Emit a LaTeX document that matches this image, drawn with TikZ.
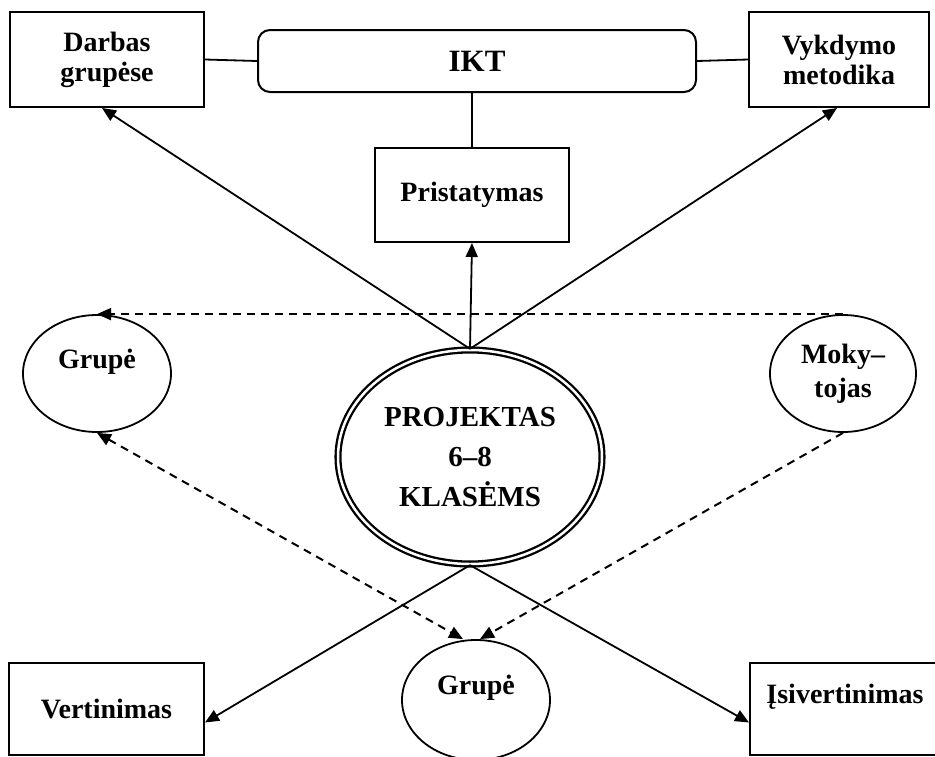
\documentclass[tikz,border=0pt]{standalone}
\usepackage{fontspec}
\setmainfont{Liberation Serif}
\usetikzlibrary{shapes.geometric,arrows.meta}
\begin{document}
\begin{tikzpicture}[x=1pt, y=-1pt,
      every node/.style={align=center, inner sep=0pt, font=\bfseries\fontsize{28}{30}\selectfont},
      box/.style={draw, line width=2pt, rectangle},
      oval/.style={draw, line width=1.8pt, ellipse},
      tip/.style={Triangle[length=14pt, width=12pt]},
      arr/.style={line width=1.8pt, -{Triangle[length=14pt, width=12pt]}},
      dash arr/.style={arr, line width=2pt, dash pattern=on 8pt off 6pt},
      link/.style={line width=1.8pt}]
    \useasboundingbox (0,0) rectangle (935,756);
    % top row
    \node[box, minimum width=194, minimum height=95] (darbas) at (107,59.5) {Darbas\\grupėse};
    \node[box, rounded corners=12pt, minimum width=438, minimum height=62,
      font=\bfseries\fontsize{31}{34}\selectfont] (ikt) at (477,61) {IKT};
    \node[box, minimum width=180, minimum height=95] (vykdymo) at (839,59.5) {Vykdymo\\metodika};
    \node[box, minimum width=194, minimum height=94] (pristat) at (472,195) {Pristatymas};
    % centre
    \node[oval, double, double distance=2.5pt, line width=2.3pt, minimum width=264, minimum height=214,
      font=\bfseries\fontsize{29}{40}\selectfont] (projektas) at (470,457) {PROJEKTAS\\6--8\\KLASĖMS};
    \node[oval, minimum width=148, minimum height=117] (grupe1) at (97,373.5) {Grupė\\~};
    \node[oval, minimum width=146, minimum height=117, font=\bfseries\fontsize{28}{34}\selectfont]
      (mokytojas) at (843,373.5) {Moky–\\tojas};
    \node[oval, minimum width=148, minimum height=120] (grupe2) at (476,700) {Grupė\\~};
    % bottom row
    \node[box, minimum width=195, minimum height=92] (vert) at (106.5,708.5) {Vertinimas};
    \node[box, minimum width=190, minimum height=92] (isiv) at (845,708.5) {Įsivertinimas\\~};
    % connectors
    \draw[link] (darbas.east) -- (ikt.west);
    \draw[link] (ikt.east) -- (vykdymo.west);
    \draw[link] (pristat.north) -- (pristat.north |- ikt.south);
    \draw[arr] (projektas.north) -- (pristat.south);
    \draw[arr] (projektas.north) -- ([xshift=-5pt]darbas.south);
    \draw[arr] (projektas.north) -- ([xshift=-2pt]vykdymo.south);
    \draw[dash arr] (mokytojas.north) -- (grupe1.north);
    \draw[dash arr, {Triangle[length=14pt, width=12pt]}-{Triangle[length=14pt, width=12pt]}]
      (grupe1.south) -- ([xshift=-13pt]grupe2.north);
    \draw[dash arr] (mokytojas.south) -- ([xshift=4pt]grupe2.north);
    \draw[arr] (projektas.south) -- ([yshift=-14pt]vert.east);
    \draw[arr] (projektas.south) -- ([yshift=-14pt]isiv.west);
\end{tikzpicture}
\end{document}
